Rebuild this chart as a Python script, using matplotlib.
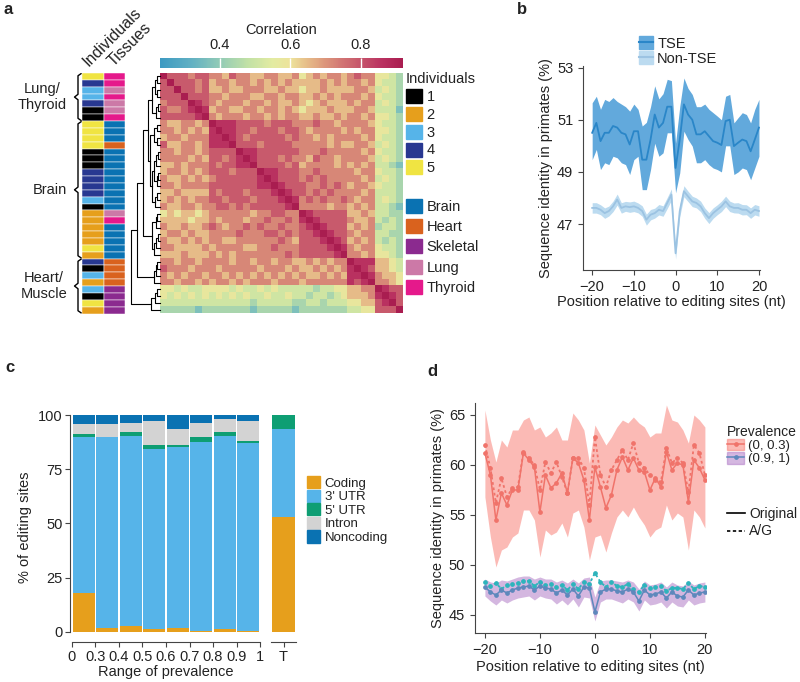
import numpy as np
import matplotlib

matplotlib.use("Agg")
import matplotlib.pyplot as plt
from matplotlib.colors import LinearSegmentedColormap, Normalize
from matplotlib.patches import Patch
from matplotlib.lines import Line2D

W, H = 800, 682
INK = "#222222"
AX = "#444444"

plt.rcParams.update({
    "font.family": ["Liberation Sans", "DejaVu Sans"],
    "font.size": 10,
    "axes.linewidth": 0.8,
    "axes.edgecolor": AX,
    "xtick.color": AX,
    "ytick.color": AX,
    "xtick.labelcolor": INK,
    "ytick.labelcolor": INK,
    "xtick.major.size": 3.5,
    "ytick.major.size": 3.5,
    "xtick.major.width": 0.8,
    "ytick.major.width": 0.8,
    "text.color": INK,
    "axes.labelcolor": INK,
})

# ---------------- panel a data ----------------
# upper triangle of the correlation matrix, row i starts at the diagonal;
# each digit is a colour level looked up in CORR_LEVELS
CORR_LEVELS = [0.30, 0.37, 0.44, 0.51, 0.58, 0.65, 0.72, 0.79, 0.86, 0.93]
corr_rows = [
    "9" "777677" "6657665566556" "4565665" "6766" "4432",
    "9" "77767" "5665665656565" "5556565" "6656" "4332",
    "9" "7767" "5565566655655" "4556555" "5665" "3432",
    "9" "777" "6656665566566" "5565656" "6656" "4332",
    "9" "87" "6566656656556" "5456555" "6566" "3432",
    "9" "8" "5665566566565" "4555655" "5665" "3331",
    "9" "6566656656566" "5565565" "6656" "4432",
    "9" "888" "777767776" "6676656" "6665" "4332",
    "9" "88" "776777677" "6566665" "6566" "4432",
    "9" "8" "767777767" "6656566" "6656" "4332",
    "9" "777677776" "6666565" "5665" "3432",
    "9" "88777777" "6667666" "6656" "4332",
    "9" "8777676" "6576656" "6665" "3432",
    "9" "777767" "5666656" "5656" "3321",
    "9" "88777" "6676666" "6566" "4332",
    "9" "8777" "6767666" "6656" "3432",
    "9" "877" "7667676" "5665" "4332",
    "9" "87" "7676766" "6656" "3332",
    "9" "8" "6767667" "6566" "3432",
    "9" "6666566" "5656" "3321",
    "9" "877777" "5565" "3322",
    "9" "87777" "6556" "3232",
    "9" "8777" "5656" "2332",
    "9" "877" "6566" "3322",
    "9" "87" "5656" "3232",
    "9" "8" "6566" "4332",
    "9" "6656" "4432",
    "9" "888" "5543",
    "9" "87" "5543",
    "9" "8" "6554",
    "9" "6654",
    "9" "877",
    "9" "87",
    "9" "7",
    "9",
]

individuals = [5, 4, 3, 3, 4, 1, 1, 5, 5, 5, 5, 1, 1, 1, 4, 4, 4, 4, 3, 1,
               2, 2, 2, 2, 2, 5, 2, 4, 1, 3, 2, 3, 1, 5, 2]
tissues = ["Thyroid", "Thyroid", "Lung", "Thyroid", "Lung", "Lung", "Thyroid",
           "Brain", "Brain", "Brain", "Heart"] + ["Brain"] * 9 + \
          ["Lung", "Thyroid"] + ["Brain"] * 5 + ["Heart"] * 4 + ["Skeletal"] * 4

ind_colors = {1: "#000000", 2: "#E69F1C", 3: "#56B4E9", 4: "#283891", 5: "#F0E442"}
tissue_names = ["Brain", "Heart", "Skeletal", "Lung", "Thyroid"]
tissue_colors = {"Brain": "#0A72B2", "Heart": "#D9621E", "Skeletal": "#8B2A8F",
                 "Lung": "#CC79A7", "Thyroid": "#E5198B"}

group_names = ["Lung/\nThyroid", "Brain", "Heart/\nMuscle"]
group_start = [0, 7, 27]
group_end = [7, 27, 35]

# dendrogram merges: (node a, node b, height); new nodes numbered from 35
links = [
    (0, 1, 0.10), (2, 3, 0.08), (35, 36, 0.15), (4, 5, 0.07), (38, 6, 0.12),
    (37, 39, 0.25),
    (7, 8, 0.08), (9, 10, 0.10), (41, 42, 0.18),
    (11, 12, 0.07), (44, 13, 0.12), (14, 15, 0.06), (46, 16, 0.10),
    (45, 47, 0.18), (17, 18, 0.08), (49, 19, 0.15), (48, 50, 0.25),
    (43, 51, 0.32), (40, 52, 0.42),
    (20, 21, 0.08), (54, 22, 0.14), (23, 24, 0.07), (56, 25, 0.12),
    (57, 26, 0.18), (55, 58, 0.28), (53, 59, 0.58),
    (27, 28, 0.08), (61, 29, 0.12), (62, 30, 0.20), (60, 63, 0.80),
    (31, 32, 0.08), (65, 33, 0.15), (66, 34, 0.30), (64, 67, 1.00),
]

# ---------------- panel b data ----------------
positions = list(range(-20, 21))
tse_mean = [50.50, 50.88, 50.18, 50.50, 50.50, 50.76, 50.70, 50.50, 50.44, 50.05,
            50.56, 50.56, 49.47, 49.47, 50.24, 51.20, 50.70, 50.88, 51.50, 51.50,
            49.15,
            50.24, 51.59, 51.20, 51.00, 50.44, 50.44, 50.56, 50.37, 50.18, 50.12,
            50.03, 50.95, 51.00, 49.99, 50.12, 50.24, 50.18, 49.79, 50.24, 50.70]
tse_hi = [51.65, 51.90, 51.40, 51.78, 51.70, 51.85, 51.70, 51.60, 51.50, 51.33,
          51.60, 51.40, 50.76, 50.90, 51.50, 52.30, 51.80, 52.00, 52.55, 52.50,
          50.10,
          51.50, 52.60, 52.20, 51.97, 51.50, 51.50, 51.60, 51.40, 51.27, 51.14,
          51.00, 51.90, 51.97, 50.88, 51.08, 51.27, 51.20, 50.88, 51.40, 51.78]
tse_lo = [49.47, 49.86, 49.09, 49.35, 49.28, 49.60, 49.54, 49.35, 49.28, 48.90,
          49.47, 49.60, 48.32, 48.32, 49.09, 50.10, 49.60, 49.73, 50.50, 50.50,
          48.20,
          48.96, 50.56, 50.24, 49.99, 49.35, 49.35, 49.47, 49.28, 49.15, 49.09,
          49.00, 50.00, 50.00, 48.90, 49.00, 49.15, 49.09, 48.70, 49.15, 49.60]
non_mean = [47.62, 47.62, 47.55, 47.42, 47.50, 47.68, 47.94, 47.62, 47.68, 47.65,
            47.68, 47.62, 47.50, 47.17, 47.36, 47.42, 47.55, 47.50, 47.81, 48.13,
            45.88,
            47.50, 48.26, 48.06, 47.87, 47.81, 47.68, 47.42, 47.23, 47.42, 47.55,
            47.68, 47.87, 47.68, 47.62, 47.62, 47.55, 47.55, 47.42, 47.55, 47.50]
non_err = [0.20, 0.20, 0.19, 0.20, 0.19, 0.20, 0.21, 0.20, 0.19, 0.20,
           0.20, 0.19, 0.20, 0.21, 0.20, 0.19, 0.20, 0.20, 0.21, 0.22,
           0.22,
           0.22, 0.21, 0.20, 0.20, 0.19, 0.20, 0.20, 0.21, 0.20, 0.19,
           0.20, 0.20, 0.20, 0.19, 0.20, 0.20, 0.19, 0.20, 0.20, 0.20]

# ---------------- panel c data ----------------
prev_edges = ["0", "0.3", "0.4", "0.5", "0.6", "0.7", "0.8", "0.9", "1"]
region_names = ["Coding", "3' UTR", "5' UTR", "Intron", "Noncoding"]
region_colors = ["#E69F1C", "#56B4E9", "#0E9E73", "#D3D3D3", "#0A72B2"]
coding = [17.7, 1.8, 2.6, 1.1, 1.8, 0.5, 1.4, 0.5]
utr3 = [72.3, 87.9, 87.7, 83.2, 83.3, 87.2, 88.9, 86.7]
utr5 = [1.2, 0.0, 1.9, 1.9, 1.2, 2.3, 1.9, 1.0]
intron = [4.5, 6.0, 4.3, 11.2, 7.2, 6.2, 5.8, 9.0]
noncoding = [4.3, 4.3, 3.5, 2.6, 6.5, 3.8, 2.0, 2.8]
total_T = [52.8, 40.6, 6.6, 0.0, 0.0]

# ---------------- panel d data ----------------
low_orig = [61.2, 59.0, 54.5, 57.2, 56.0, 57.5, 57.5, 61.2, 60.5, 59.8,
            55.3, 59.0, 57.7, 58.2, 59.2, 57.2, 60.7, 60.2, 58.5, 54.5,
            59.8,
            57.8, 55.7, 57.0, 59.5, 60.8, 59.5, 60.7, 59.5, 59.3, 57.5,
            58.7, 57.8, 61.3, 59.5, 60.2, 60.0, 56.3, 60.5, 59.7, 58.5]
low_ag = [62.0, 59.7, 56.2, 58.7, 56.8, 57.7, 57.8, 61.3, 60.7, 60.0,
          57.5, 60.3, 59.2, 60.3, 58.8, 57.2, 60.7, 60.7, 59.7, 56.0,
          62.8,
          59.0, 57.8, 59.5, 60.5, 61.5, 60.5, 62.2, 60.2, 59.7, 59.0,
          58.5, 58.3, 61.7, 60.2, 60.7, 60.2, 57.3, 62.0, 61.2, 59.0]
low_hi = [65.5, 62.5, 60.3, 62.5, 61.8, 63.5, 63.5, 64.5, 64.8, 63.5,
          63.8, 62.8, 63.2, 63.8, 62.5, 62.5, 65.2, 64.5, 63.5, 60.2,
          64.0,
          63.0, 62.0, 62.8, 63.8, 64.5, 64.2, 64.8, 64.2, 63.8, 62.8,
          63.2, 63.2, 66.0, 64.5, 64.3, 63.5, 62.2, 65.0, 64.5, 63.8]
low_lo = [56.8, 52.8, 49.8, 51.5, 51.8, 52.8, 53.2, 55.5, 55.5, 54.5,
          50.8, 53.5, 53.0, 53.3, 54.2, 52.8, 55.2, 55.5, 53.8, 50.5,
          52.8,
          53.0, 51.3, 53.2, 54.8, 55.5, 54.8, 55.8, 54.8, 54.0, 52.8,
          53.5, 53.8, 56.0, 54.5, 55.2, 54.8, 51.5, 55.5, 54.8, 53.7]
high_orig = [47.8, 47.3, 47.0, 47.5, 47.2, 47.5, 47.7, 47.8, 47.9, 47.5,
             47.9, 47.7, 47.6, 47.2, 47.5, 47.0, 47.6, 46.9, 47.8, 47.7,
             45.3,
             47.3, 47.6, 47.6, 47.4, 47.3, 47.6, 47.3, 46.4, 47.5, 47.0,
             47.1, 47.3, 46.7, 47.3, 46.9, 46.8, 47.5, 47.0, 47.2, 47.3]
high_ag = [48.3, 47.9, 48.2, 47.6, 48.0, 48.1, 48.2, 48.4, 48.4, 47.9,
           48.3, 48.0, 48.1, 47.8, 48.0, 47.5, 48.1, 47.6, 48.3, 48.1,
           49.2,
           48.3, 47.8, 48.3, 47.9, 47.8, 48.1, 47.6, 47.3, 48.0, 47.7,
           47.8, 47.9, 47.4, 47.7, 47.7, 47.6, 48.2, 47.6, 47.9, 47.8]
high_hi = [48.6, 48.3, 48.2, 48.5, 48.4, 48.6, 48.8, 48.9, 48.9, 48.6,
           48.8, 48.6, 48.6, 48.3, 48.5, 48.2, 48.6, 48.2, 48.7, 48.8,
           46.8,
           48.4, 48.5, 48.5, 48.4, 48.3, 48.5, 48.3, 47.6, 48.4, 48.0,
           48.1, 48.3, 47.8, 48.3, 48.0, 47.9, 48.4, 48.0, 48.2, 48.3]
high_lo = [46.9, 46.4, 46.0, 46.5, 46.2, 46.5, 46.7, 46.8, 46.9, 46.5,
           46.9, 46.7, 46.6, 46.1, 46.5, 46.0, 46.6, 45.8, 46.8, 46.7,
           44.4,
           46.3, 46.6, 46.6, 46.4, 46.2, 46.6, 46.3, 45.4, 46.5, 46.0,
           46.1, 46.3, 45.7, 46.3, 45.9, 45.8, 46.5, 46.0, 46.2, 46.3]


def box(x0, y0, x1, y1):
    """pixel box (top-left origin) -> figure fraction rect"""
    return [x0 / W, 1 - y1 / H, (x1 - x0) / W, (y1 - y0) / H]


def clean(ax):
    ax.spines[["top", "right"]].set_visible(False)


fig = plt.figure(figsize=(W / 100, H / 100), dpi=100)

# ================= panel a =================
n = len(corr_rows)
corr = np.zeros((n, n))
for i, row in enumerate(corr_rows):
    for k, ch in enumerate(row):
        corr[i, i + k] = CORR_LEVELS[int(ch)]
corr = corr + np.triu(corr, 1).T

stops = [(0.23, "#3d9ac2"), (0.32, "#62b1c3"), (0.40, "#92cbb6"), (0.48, "#c2e1a5"),
         (0.55, "#e3eba2"), (0.60, "#ede39b"), (0.65, "#e6bb88"), (0.70, "#dc957b"),
         (0.75, "#d17373"), (0.80, "#c6556b"), (0.86, "#ba3261"), (0.92, "#a91d50")]
vmin, vmax = stops[0][0], stops[-1][0]
cmap = LinearSegmentedColormap.from_list(
    "corr", [((v - vmin) / (vmax - vmin), c) for v, c in stops])

ax_hm = fig.add_axes(box(160, 73, 403, 313.5))
im = ax_hm.imshow(corr, cmap=cmap, norm=Normalize(vmin, vmax), aspect="auto",
                  interpolation="nearest")
ax_hm.set_axis_off()

cax = fig.add_axes(box(160, 58, 403, 68))
cb = fig.colorbar(im, cax=cax, orientation="horizontal", ticks=[0.4, 0.6, 0.8])
cb.outline.set_visible(False)
cax.xaxis.set_ticks_position("top")
cax.tick_params(axis="x", direction="in", length=10, color="white", width=1,
                labelsize=10.5, pad=4)
fig.text(281 / W, 1 - 30 / H, "Correlation", ha="center", va="center", fontsize=10.5)

# annotation columns
ax_an = fig.add_axes(box(82, 73, 125, 313.5))
rows = np.arange(n)
ax_an.barh(rows, 1, left=0, height=1, color=[ind_colors[v] for v in individuals],
           edgecolor="white", linewidth=0.35)
ax_an.barh(rows, 0.97, left=1.03, height=1, color=[tissue_colors[t] for t in tissues],
           edgecolor="white", linewidth=0.35)
ax_an.set_xlim(0, 2)
ax_an.set_ylim(n - 0.5, -0.5)
ax_an.set_axis_off()
fig.text(89 / W, 1 - 67 / H, "Individuals", rotation=45, rotation_mode="anchor",
         ha="left", va="baseline", fontsize=11.5)
fig.text(114 / W, 1 - 67 / H, "Tissues", rotation=45, rotation_mode="anchor",
         ha="left", va="baseline", fontsize=11.5)

# brackets and group labels
ax_br = fig.add_axes(box(0, 73, 82, 313.5))
ax_br.set_xlim(0, 82)
ax_br.set_ylim(n, 0)
ax_br.set_axis_off()
for name, s, e in zip(group_names, group_start, group_end):
    mid = (s + e) / 2
    ax_br.plot([81, 78, 78, 74.5, 78, 78, 81],
               [s + 0.1, s + 0.4, mid - 0.4, mid, mid + 0.4, e - 0.4, e - 0.1],
               color="black", lw=1.0, solid_joinstyle="round")
    ax_br.text(67, mid, name, ha="right", va="center", multialignment="center",
               fontsize=10.5, linespacing=1.15)

# dendrogram
ax_dn = fig.add_axes(box(131, 73, 159.5, 313.5))
pos = {i: i + 0.5 for i in range(n)}
hgt = {i: 0.0 for i in range(n)}
for k, (a, b, h) in enumerate(links):
    ax_dn.plot([hgt[a], h, h, hgt[b]], [pos[a], pos[a], pos[b], pos[b]],
               color="black", lw=0.8, clip_on=False)
    pos[n + k] = (pos[a] + pos[b]) / 2
    hgt[n + k] = h
ax_dn.set_xlim(1.0, 0)
ax_dn.set_ylim(n, 0)
ax_dn.set_axis_off()

leg_kw = dict(frameon=False, borderpad=0, borderaxespad=0, handlelength=1.1,
              handleheight=1.1, handletextpad=0.3, fontsize=10.5)
fig.legend(handles=[Patch(color=ind_colors[k]) for k in ind_colors],
           labels=[str(k) for k in ind_colors], loc="upper left",
           bbox_to_anchor=(406 / W, 1 - 72 / H), title="Individuals",
           title_fontsize=10.5, alignment="left", labelspacing=0.2, **leg_kw)
fig.legend(handles=[Patch(color=tissue_colors[t]) for t in tissue_names],
           labels=tissue_names, loc="upper left",
           bbox_to_anchor=(406 / W, 1 - 199 / H), labelspacing=0.36, **leg_kw)

# ================= panel b =================
ax_b = fig.add_axes(box(583, 66, 760, 270))
ax_b.fill_between(positions, tse_lo, tse_hi, color="#62A9DC", lw=0)
ax_b.plot(positions, tse_mean, color="#2A86C8", lw=1.3)
non_lo = np.array(non_mean) - np.array(non_err)
non_hi = np.array(non_mean) + np.array(non_err)
ax_b.fill_between(positions, non_lo, non_hi, color="#BCDBF0", lw=0)
ax_b.plot(positions, non_mean, color="#9CC3E2", lw=1.3)
ax_b.set_xlim(-22.2, 20.25)
ax_b.set_ylim(45.24, 53.06)
ax_b.set_xticks([-20, -10, 0, 10, 20])
ax_b.set_yticks([47, 49, 51, 53])
ax_b.tick_params(labelsize=10.5)
ax_b.set_xlabel("Position relative to editing sites (nt)", fontsize=10.5, labelpad=1)
ax_b.set_ylabel("Sequence identity in primates (%)", fontsize=10.5, labelpad=3)
clean(ax_b)
fig.legend(handles=[(Patch(color="#62A9DC"), Line2D([], [], color="#2A86C8", lw=1.5)),
                    (Patch(color="#BCDBF0"), Line2D([], [], color="#9CC3E2", lw=1.5))],
           labels=["TSE", "Non-TSE"], loc="upper left",
           bbox_to_anchor=(639 / W, 1 - 36 / H), frameon=False, borderpad=0,
           borderaxespad=0, handlelength=0.95, handleheight=1.0, handletextpad=0.3,
           labelspacing=0.05, fontsize=10.5)

# ================= panel c =================
ax_c = fig.add_axes(box(70, 412, 262, 642))
xb = np.arange(len(coding)) + 0.5
bottom = np.zeros(len(coding))
for vals, col in zip([coding, utr3, utr5, intron, noncoding], region_colors):
    ax_c.bar(xb, vals, width=0.92, bottom=bottom, color=col, lw=0)
    bottom += np.array(vals)
ax_c.set_xlim(-0.085, 8.085)
ax_c.set_ylim(-4.75, 101.4)
ax_c.set_xticks(np.arange(len(prev_edges)))
ax_c.set_xticklabels(prev_edges)
ax_c.set_yticks([0, 25, 50, 75, 100])
ax_c.spines["left"].set_bounds(0, 100)
ax_c.spines["bottom"].set_bounds(0, 8)
ax_c.tick_params(labelsize=10.5, pad=2)
ax_c.set_xlabel("Range of prevalence", fontsize=10.5, labelpad=1)
ax_c.set_ylabel("% of editing sites", fontsize=10.5, labelpad=4)
clean(ax_c)

ax_t = fig.add_axes(box(271, 412, 296, 642), sharey=ax_c)
bt = 0.0
for val, col in zip(total_T, region_colors):
    ax_t.bar([0], [val], width=0.9, bottom=bt, color=col, lw=0)
    bt += val
ax_t.set_xlim(-0.5, 0.5)
ax_t.set_xticks([0])
ax_t.set_xticklabels(["T"])
ax_t.tick_params(labelsize=10.5, pad=2)
ax_t.tick_params(axis="y", left=False, labelleft=False)
ax_t.spines[["top", "right", "left"]].set_visible(False)

fig.legend(handles=[Patch(color=c) for c in region_colors], labels=region_names,
           loc="center left", bbox_to_anchor=(307 / W, 1 - 510 / H), frameon=False,
           borderpad=0, borderaxespad=0, handlelength=1.0, handleheight=1.05,
           handletextpad=0.35, labelspacing=0.0, fontsize=9.5)

# ================= panel d =================
RED = "#F0736A"
RED_BAND = "#F8766D"
BLUE = "#5E88BC"
TEAL = "#2DB4BC"
PURPLE = "#B27CC7"

ax_d = fig.add_axes(box(475, 403, 706, 633))
ax_d.fill_between(positions, low_lo, low_hi, color=RED_BAND, alpha=0.5, lw=0)
ax_d.plot(positions, low_orig, color=RED, lw=1.1, marker="o", ms=2.4)
ax_d.plot(positions, low_ag, color=RED, lw=1.3, ls=(0, (1.5, 1.5)), marker="o", ms=2.4)
ax_d.fill_between(positions, high_lo, high_hi, color=PURPLE, alpha=0.55, lw=0)
ax_d.plot(positions, high_ag, color=TEAL, lw=1.3, ls=(0, (1.5, 1.5)), marker="o", ms=2.4)
ax_d.plot(positions, high_orig, color=BLUE, lw=1.1, marker="o", ms=2.4)
ax_d.set_xlim(-21.8, 20.2)
ax_d.set_ylim(43.2, 66.2)
ax_d.set_xticks([-20, -10, 0, 10, 20])
ax_d.set_yticks([45, 50, 55, 60, 65])
ax_d.tick_params(labelsize=10.5)
ax_d.set_xlabel("Position relative to editing sites (nt)", fontsize=10.5, labelpad=2)
ax_d.set_ylabel("Sequence identity in primates (%)", fontsize=10.5, labelpad=3)
clean(ax_d)

fig.legend(handles=[(Patch(color=RED_BAND, alpha=0.5),
                     Line2D([], [], color=RED, lw=1.1, marker="o", ms=2.4)),
                    (Patch(color=PURPLE, alpha=0.55),
                     Line2D([], [], color=BLUE, lw=1.1, marker="o", ms=2.4))],
           labels=["(0, 0.3)", "(0.9, 1)"], loc="upper left",
           bbox_to_anchor=(727 / W, 1 - 425 / H), title="Prevalence", title_fontsize=10,
           alignment="left", frameon=False, borderpad=0, borderaxespad=0,
           handlelength=1.3, handleheight=0.95, handletextpad=0.3, labelspacing=0.0,
           fontsize=9.5)
fig.legend(handles=[Line2D([], [], color="black", lw=1.2),
                    Line2D([], [], color="black", lw=1.2, ls=(0, (2, 1.5)))],
           labels=["Original", "A/G"], loc="upper left",
           bbox_to_anchor=(727 / W, 1 - 507 / H), frameon=False, borderpad=0,
           borderaxespad=0, handlelength=1.3, handletextpad=0.3, labelspacing=0.25,
           fontsize=10)

# panel letters
for letter, (x, y) in zip("abcd", [(3, 10), (517, 10), (5, 367), (427, 372)]):
    fig.text(x / W, 1 - y / H, letter, fontsize=12, fontweight="bold",
             ha="left", va="center")

fig.savefig("out.png", dpi=100)
